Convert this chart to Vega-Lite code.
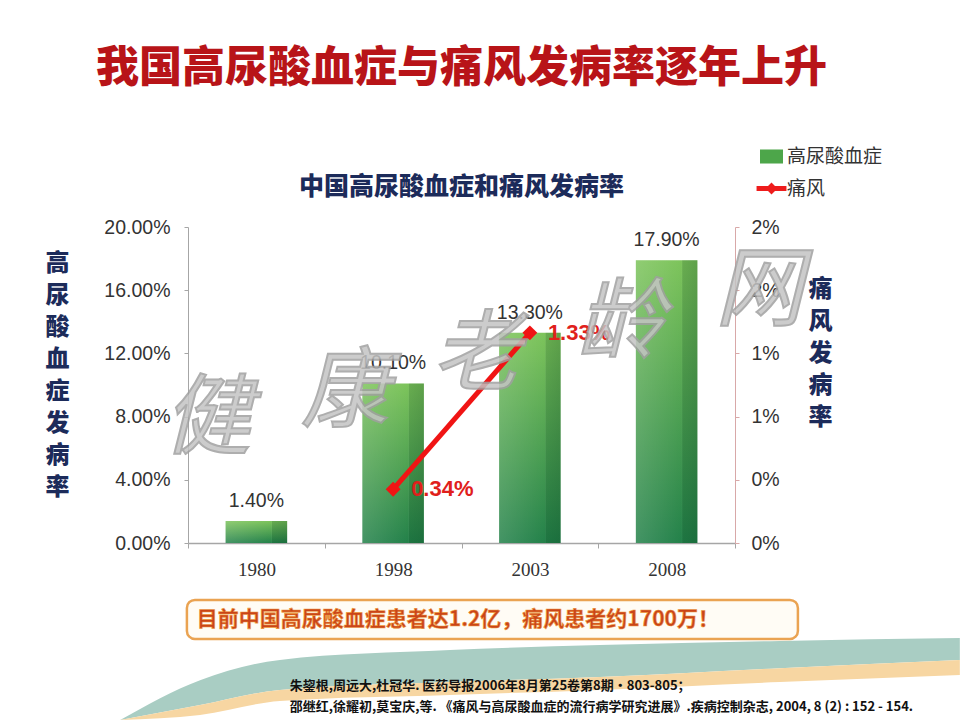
{
  "$schema": "https://vega.github.io/schema/vega-lite/v6.json",
  "width": 547,
  "height": 316,
  "autosize": {"type": "none"},
  "padding": {"left": 188, "top": 227, "right": 225, "bottom": 177},
  "background": "white",
  "title": {
    "text": "我国高尿酸血症与痛风发病率逐年上升",
    "subtitle": "中国高尿酸血症和痛风发病率",
    "anchor": "middle",
    "font": "Noto Sans CJK SC",
    "fontSize": 43,
    "fontWeight": 900,
    "color": "#B81418",
    "subtitleFont": "Noto Sans CJK SC",
    "subtitleFontSize": 25,
    "subtitleFontWeight": 900,
    "subtitleColor": "#1C2B5A",
    "subtitlePadding": 84,
    "offset": -57
  },
  "config": {
    "view": {"stroke": null},
    "axis": {"grid": false}
  },
  "datasets": {
    "bars": [
      {"year": "1980", "v": 0.014},
      {"year": "1998", "v": 0.101},
      {"year": "2003", "v": 0.133},
      {"year": "2008", "v": 0.179}
    ],
    "gout": [
      {"year": "1998", "v": 0.0034},
      {"year": "2003", "v": 0.0133}
    ],
    "legendrows": [
      {"s": "高尿酸血症"},
      {"s": "痛风"}
    ],
    "wm": [
      {"ch": "健", "u": 0.035, "v": 0.385},
      {"ch": "康", "u": 0.287, "v": 0.47},
      {"ch": "老", "u": 0.527, "v": 0.59},
      {"ch": "龄", "u": 0.79, "v": 0.69},
      {"ch": "网", "u": 1.044, "v": 0.791}
    ],
    "box": [{"u": -0.002, "u2": 1.115, "v": -0.18, "v2": -0.304}],
    "boxtext": [{"u": 0.016, "v": -0.244, "t": "目前中国高尿酸血症患者达1.2亿，痛风患者约1700万！"}],
    "refs": [
      {"u": 0.186, "v": -0.453, "t": "朱鋆根,周远大,杜冠华. 医药导报2006年8月第25卷第8期•803-805；"},
      {"u": 0.186, "v": -0.519, "t": "邵继红,徐耀初,莫宝庆,等. 《痛风与高尿酸血症的流行病学研究进展》.疾病控制杂志, 2004, 8 (2) : 152 - 154."}
    ],
    "wave": [
      {"u": -0.124, "top": -0.56, "tb": -0.56, "ob": -0.56},
      {"u": 0.022, "top": -0.434, "tb": -0.513, "ob": -0.544},
      {"u": 0.168, "top": -0.37, "tb": -0.465, "ob": -0.5},
      {"u": 0.479, "top": -0.339, "tb": -0.44, "ob": -0.481},
      {"u": 0.753, "top": -0.323, "tb": -0.424, "ob": -0.465},
      {"u": 1.082, "top": -0.31, "tb": -0.396, "ob": -0.44},
      {"u": 1.411, "top": -0.301, "tb": -0.37, "ob": -0.418}
    ]
  },
  "resolve": {"scale": {"x": "independent", "y": "independent", "color": "independent", "shape": "independent"}},
  "layer": [
    {
      "data": {"name": "wave"},
      "mark": {"type": "area", "color": "#A9CDC3", "interpolate": "monotone", "orient": "vertical"},
      "encoding": {
        "x": {"field": "u", "type": "quantitative", "scale": {"domain": [0, 1], "nice": false, "zero": false}, "axis": null},
        "y": {"field": "top", "type": "quantitative", "scale": {"domain": [0, 1], "nice": false, "zero": false}, "axis": null},
        "y2": {"field": "tb"}
      }
    },
    {
      "data": {"name": "wave"},
      "mark": {"type": "area", "color": "#F7D6A2", "interpolate": "monotone", "orient": "vertical"},
      "encoding": {
        "x": {"field": "u", "type": "quantitative", "scale": {"domain": [0, 1], "nice": false, "zero": false}, "axis": null},
        "y": {"field": "tb", "type": "quantitative", "scale": {"domain": [0, 1], "nice": false, "zero": false}, "axis": null},
        "y2": {"field": "ob"}
      }
    },
    {
      "data": {"name": "bars"},
      "mark": {
        "type": "bar",
        "width": {"band": 0.45},
        "fill": {"gradient": "linear", "x1": 0, "y1": 0, "x2": 0, "y2": 1,
          "stops": [{"offset": 0, "color": "#7DC45B"}, {"offset": 1, "color": "#23814A"}]}
      },
      "encoding": {
        "x": {"field": "year", "type": "nominal", "sort": null,
          "scale": {"type": "band", "domain": ["1980", "1998", "2003", "2008"], "paddingInner": 0, "paddingOuter": 0},
          "axis": {"title": null, "labelAngle": 0, "labelFont": "Liberation Serif", "labelFontSize": 19, "labelColor": "#333333",
            "labelPadding": 12, "tickBand": "extent", "tickSize": 5, "tickColor": "#A6A6A6", "domainColor": "#A6A6A6", "domainWidth": 1.5}},
        "y": {"field": "v", "type": "quantitative",
          "scale": {"domain": [0, 0.2], "nice": false},
          "axis": {"orient": "left", "values": [0, 0.04, 0.08, 0.12, 0.16, 0.2], "format": ".2%",
            "labelFont": "Liberation Sans", "labelFontSize": 19.5, "labelColor": "#333333", "labelPadding": 14,
            "tickSize": 4, "tickColor": "#A6A6A6", "domainColor": "#A6A6A6",
            "title": ["高", "尿", "酸", "血", "症", "发", "病", "率"],
            "titleAngle": 0, "titleFont": "Noto Sans CJK SC", "titleFontSize": 24, "titleFontWeight": 900,
            "titleColor": "#1C2B5A", "titleLineHeight": 32, "titleX": -131, "titleY": 24, "titleAlign": "center", "titleBaseline": "top"}}
      }
    },
    {
      "data": {"name": "bars"},
      "mark": {
        "type": "bar",
        "width": {"band": 0.45},
        "fill": {"gradient": "linear", "x1": 0, "y1": 0, "x2": 1, "y2": 0,
          "stops": [
            {"offset": 0, "color": "rgba(255,255,255,0.15)"},
            {"offset": 0.74, "color": "rgba(255,255,255,0)"},
            {"offset": 0.76, "color": "rgba(0,50,20,0.16)"},
            {"offset": 1, "color": "rgba(0,50,20,0.24)"}
          ]}
      },
      "encoding": {
        "x": {"field": "year", "type": "nominal", "sort": null,
          "scale": {"type": "band", "domain": ["1980", "1998", "2003", "2008"], "paddingInner": 0, "paddingOuter": 0}, "axis": null},
        "y": {"field": "v", "type": "quantitative", "scale": {"domain": [0, 0.2], "nice": false}, "axis": null}
      }
    },
    {
      "data": {"name": "bars"},
      "mark": {"type": "text", "baseline": "bottom", "dy": -10, "font": "Liberation Sans", "fontSize": 19.5, "fill": "#333333"},
      "encoding": {
        "x": {"field": "year", "type": "nominal", "sort": null,
          "scale": {"type": "band", "domain": ["1980", "1998", "2003", "2008"], "paddingInner": 0, "paddingOuter": 0}, "axis": null},
        "y": {"field": "v", "type": "quantitative", "scale": {"domain": [0, 0.2], "nice": false}, "axis": null},
        "text": {"field": "v", "type": "quantitative", "format": ".2%"}
      }
    },
    {
      "data": {"name": "gout"},
      "mark": {"type": "line", "stroke": "#F01414", "strokeWidth": 5},
      "encoding": {
        "x": {"field": "year", "type": "nominal", "sort": null,
          "scale": {"type": "band", "domain": ["1980", "1998", "2003", "2008"], "paddingInner": 0, "paddingOuter": 0}, "axis": null},
        "y": {"field": "v", "type": "quantitative",
          "scale": {"domain": [0, 0.02], "nice": false},
          "axis": {"orient": "right", "values": [0, 0.004, 0.008, 0.012, 0.016, 0.02], "format": ".0%",
            "labelFont": "Liberation Sans", "labelFontSize": 19.5, "labelColor": "#333333", "labelPadding": 12,
            "tickSize": 4, "tickColor": "#D8A8A8", "domainColor": "#D8A8A8",
            "title": ["痛", "风", "发", "病", "率"],
            "titleAngle": 0, "titleFont": "Noto Sans CJK SC", "titleFontSize": 24, "titleFontWeight": 900,
            "titleColor": "#1C2B5A", "titleLineHeight": 32, "titleX": 85, "titleY": 50, "titleAlign": "center", "titleBaseline": "top"}}
      }
    },
    {
      "data": {"name": "gout"},
      "mark": {"type": "point", "shape": "diamond", "filled": true, "size": 220, "fill": "#F01414", "opacity": 1},
      "encoding": {
        "x": {"field": "year", "type": "nominal", "sort": null,
          "scale": {"type": "band", "domain": ["1980", "1998", "2003", "2008"], "paddingInner": 0, "paddingOuter": 0}, "axis": null},
        "y": {"field": "v", "type": "quantitative", "scale": {"domain": [0, 0.02], "nice": false}, "axis": null}
      }
    },
    {
      "data": {"name": "gout"},
      "mark": {"type": "text", "align": "left", "baseline": "middle", "dx": 18, "font": "Liberation Sans", "fontSize": 22, "fontWeight": "bold", "fill": "#E0201B"},
      "encoding": {
        "x": {"field": "year", "type": "nominal", "sort": null,
          "scale": {"type": "band", "domain": ["1980", "1998", "2003", "2008"], "paddingInner": 0, "paddingOuter": 0}, "axis": null},
        "y": {"field": "v", "type": "quantitative", "scale": {"domain": [0, 0.02], "nice": false}, "axis": null},
        "text": {"field": "v", "type": "quantitative", "format": ".2%"}
      }
    },
    {
      "data": {"name": "wm"},
      "mark": {"type": "text", "align": "center", "baseline": "middle", "font": "Noto Sans CJK SC", "fontSize": 88, "fontWeight": 400, "fontStyle": "italic", "fill": "#C4C4C4", "opacity": 0.85, "stroke": "#A0A0A0", "strokeWidth": 2},
      "encoding": {
        "x": {"field": "u", "type": "quantitative", "scale": {"domain": [0, 1], "nice": false, "zero": false}, "axis": null},
        "y": {"field": "v", "type": "quantitative", "scale": {"domain": [0, 1], "nice": false, "zero": false}, "axis": null},
        "text": {"field": "ch"}
      }
    },
    {
      "data": {"name": "box"},
      "mark": {"type": "rect", "fill": "#FFFCF5", "stroke": "#EAA352", "strokeWidth": 2.5, "cornerRadius": 8},
      "encoding": {
        "x": {"field": "u", "type": "quantitative", "scale": {"domain": [0, 1], "nice": false, "zero": false}, "axis": null},
        "x2": {"field": "u2"},
        "y": {"field": "v", "type": "quantitative", "scale": {"domain": [0, 1], "nice": false, "zero": false}, "axis": null},
        "y2": {"field": "v2"}
      }
    },
    {
      "data": {"name": "boxtext"},
      "mark": {"type": "text", "align": "left", "baseline": "middle", "font": "Noto Sans CJK SC", "fontSize": 21, "fontWeight": "bold", "fill": "#C9441A", "stroke": "#EE9A3A", "strokeWidth": 0.6},
      "encoding": {
        "x": {"field": "u", "type": "quantitative", "scale": {"domain": [0, 1], "nice": false, "zero": false}, "axis": null},
        "y": {"field": "v", "type": "quantitative", "scale": {"domain": [0, 1], "nice": false, "zero": false}, "axis": null},
        "text": {"field": "t"}
      }
    },
    {
      "data": {"name": "refs"},
      "mark": {"type": "text", "align": "left", "baseline": "middle", "font": "Noto Sans CJK SC", "fontSize": 13, "fontWeight": "bold", "fill": "#111111"},
      "encoding": {
        "x": {"field": "u", "type": "quantitative", "scale": {"domain": [0, 1], "nice": false, "zero": false}, "axis": null},
        "y": {"field": "v", "type": "quantitative", "scale": {"domain": [0, 1], "nice": false, "zero": false}, "axis": null},
        "text": {"field": "t"}
      }
    },
    {
      "data": {"name": "legendrows"},
      "mark": {"type": "point", "filled": true, "opacity": 0},
      "encoding": {
        "color": {"field": "s", "type": "nominal", "sort": null,
          "scale": {"domain": ["高尿酸血症", "痛风"], "range": ["#4DA64A", "#EE1C1C"]},
          "legend": {"title": null, "orient": "none", "legendX": 570, "legendY": -84, "symbolSize": 700, "symbolOpacity": 1, "symbolStrokeWidth": 0,
            "labelFont": "Noto Sans CJK SC", "labelFontSize": 19, "labelColor": "#333333", "rowPadding": 8, "labelOffset": 2}},
        "shape": {"field": "s", "type": "nominal", "sort": null,
          "scale": {"domain": ["高尿酸血症", "痛风"], "range": ["M-0.87,-0.53H0.87V0.53H-0.87Z", "M-1.13,-0.19H1.13V0.19H-1.13Z M0,-0.45L0.45,0L0,0.45L-0.45,0Z"]},
          "legend": {"title": null, "orient": "none", "legendX": 570, "legendY": -84, "symbolSize": 700, "symbolOpacity": 1, "symbolStrokeWidth": 0,
            "labelFont": "Noto Sans CJK SC", "labelFontSize": 19, "labelColor": "#333333", "rowPadding": 8, "labelOffset": 2}}
      }
    }
  ]
}
